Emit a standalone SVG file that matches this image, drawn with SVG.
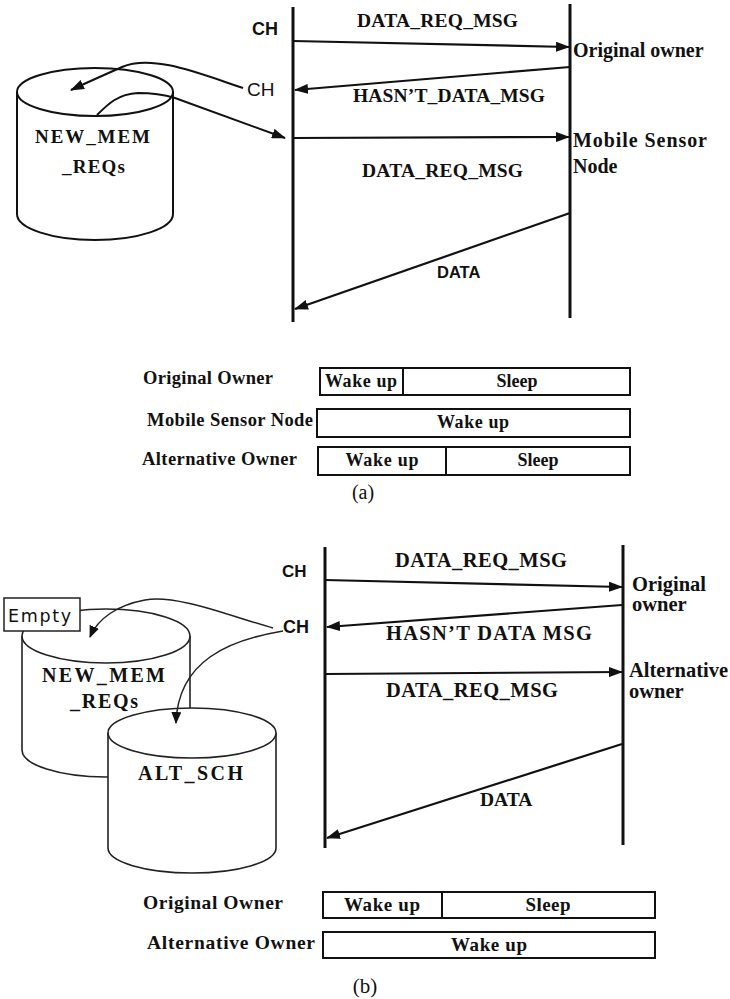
<svg xmlns="http://www.w3.org/2000/svg" width="730" height="999" viewBox="0 0 730 999">
  <style>
    .bg { fill: #ffffff; }
    .life { stroke: #111; stroke-width: 3; fill: none; }
    .msg { stroke: #111; stroke-width: 2.2; fill: none; }
    .curve { stroke: #111; stroke-width: 2; fill: none; }
    .curve-thin { stroke: #222; stroke-width: 1.5; fill: none; }
    .cyl { stroke: #111; stroke-width: 2; fill: #ffffff; }
    .cyl-thin { stroke: #222; stroke-width: 1.6; fill: #ffffff; }
    .box { stroke: #111; stroke-width: 2; fill: #ffffff; }
    .serif-b { font-family: "Liberation Serif", "Times New Roman", serif; font-weight: bold; fill: #111; }
    .serif { font-family: "Liberation Serif", "Times New Roman", serif; fill: #111; }
    .sans-b { font-family: "Liberation Sans", Arial, sans-serif; font-weight: bold; fill: #111; }
    .sans { font-family: "Liberation Sans", Arial, sans-serif; fill: #111; }
    .mid { text-anchor: middle; }
  </style>
  <defs>
    <marker id="ah" markerWidth="14" markerHeight="10" refX="13" refY="5" orient="auto" markerUnits="userSpaceOnUse">
      <path d="M0,0 L14,5 L0,10 Z" fill="#111"/>
    </marker>
    <marker id="ah-s" markerWidth="12" markerHeight="10" refX="11" refY="5" orient="auto" markerUnits="userSpaceOnUse">
      <path d="M0,0 L12,5 L0,10 Z" fill="#111"/>
    </marker>
  </defs>

  <rect class="bg" x="0" y="0" width="730" height="999"/>

  <!-- ===== Part (a) ===== -->
  <g id="a-ch-lifeline">
    <line class="life" x1="293" y1="7" x2="293" y2="322"/>
    <text class="sans-b" x="252" y="35" font-size="18">CH</text>
  </g>
  <g id="a-owner-lifeline">
    <line class="life" x1="570" y1="4" x2="570" y2="318"/>
    <text class="serif-b" x="573" y="57" font-size="20">Original owner</text>
    <text class="serif-b" x="573" y="147" font-size="20" textLength="134">Mobile Sensor</text>
    <text class="serif-b" x="573" y="173" font-size="20">Node</text>
  </g>
  <g id="a-ch-label">
    <text class="sans" x="247" y="96" font-size="19">CH</text>
  </g>
  <g id="a-new-mem-reqs">
    <path class="cyl" d="M17,92 A78,24 0 0,1 173,92 L173,214 A78,26 0 0,1 17,214 Z"/>
    <path class="cyl" d="M17,92 A78,24 0 0,0 173,92"/>
    <text class="serif-b" x="35" y="143" font-size="19" textLength="115">NEW_MEM</text>
    <text class="serif-b" x="62" y="173" font-size="19" textLength="63">_REQs</text>
  </g>

  <g id="a-connectors">
    <line class="msg" x1="293" y1="41" x2="569" y2="47" marker-end="url(#ah)"/>
    <line class="msg" x1="570" y1="67" x2="295" y2="90" marker-end="url(#ah)"/>
    <line class="msg" x1="293" y1="138" x2="569" y2="137" marker-end="url(#ah)"/>
    <line class="msg" x1="570" y1="213" x2="295" y2="309" marker-end="url(#ah)"/>
    <path class="curve" d="M243,88 C198,73 152,54 122,67 C104,75 88,82 71,90" marker-end="url(#ah)"/>
    <path class="curve" d="M97,115 C108,104 118,94 138,93 C152,93 165,95 175,98 L285,138" marker-end="url(#ah)"/>
  </g>

  <g id="a-message-labels">
    <text class="serif-b" x="357" y="27" font-size="19.5" textLength="161">DATA_REQ_MSG</text>
    <text class="serif-b" x="353" y="102" font-size="19.5" textLength="192">HASN’T_DATA_MSG</text>
    <text class="serif-b" x="362" y="177" font-size="19.5" textLength="161">DATA_REQ_MSG</text>
    <text class="sans-b" x="437" y="278" font-size="16.5">DATA</text>
  </g>

  <g id="a-timeline-original">
    <text class="serif-b" x="143" y="384" font-size="18.5" textLength="130">Original Owner</text>
    <rect class="box" x="320" y="368" width="310" height="27"/>
    <line class="box" x1="403" y1="368" x2="403" y2="395"/>
    <text class="serif-b mid" x="361" y="387" font-size="18" textLength="72">Wake up</text>
    <text class="serif-b mid" x="517" y="387" font-size="18">Sleep</text>
  </g>
  <g id="a-timeline-mobile">
    <text class="serif-b" x="147" y="426" font-size="18.5" textLength="166">Mobile Sensor Node</text>
    <rect class="box" x="317" y="409" width="313" height="28"/>
    <text class="serif-b mid" x="473" y="428" font-size="18" textLength="72">Wake up</text>
  </g>
  <g id="a-timeline-alternative">
    <text class="serif-b" x="142" y="465" font-size="18.5" textLength="155">Alternative Owner</text>
    <rect class="box" x="318" y="447" width="312" height="28"/>
    <line class="box" x1="446" y1="447" x2="446" y2="475"/>
    <text class="serif-b mid" x="382" y="466" font-size="18" textLength="73">Wake up</text>
    <text class="serif-b mid" x="538" y="466" font-size="18">Sleep</text>
  </g>
  <text class="serif mid" x="363" y="499" font-size="20">(a)</text>

  <!-- ===== Part (b) ===== -->
  <g id="b-ch-lifeline">
    <line class="life" x1="325" y1="547" x2="325" y2="848"/>
    <text class="sans-b" x="282" y="577" font-size="17">CH</text>
  </g>
  <g id="b-owner-lifeline">
    <line class="life" x1="623" y1="545" x2="623" y2="845"/>
    <text class="serif-b" x="632" y="591" font-size="20.5">Original</text>
    <text class="serif-b" x="632" y="611" font-size="20.5">owner</text>
    <text class="serif-b" x="629" y="677" font-size="20.5">Alternative</text>
    <text class="serif-b" x="629" y="698" font-size="20.5">owner</text>
  </g>

  <g id="b-new-mem-reqs">
    <path class="cyl-thin" d="M22,636 A84,27 0 0,1 190,636 L190,750 A84,27 0 0,1 22,750 Z"/>
    <path class="cyl-thin" d="M22,636 A84,27 0 0,0 190,636"/>
    <text class="serif-b" x="42" y="682" font-size="20" textLength="123">NEW_MEM</text>
    <text class="serif-b" x="70" y="708" font-size="20" textLength="68">_REQs</text>
  </g>
  <g id="b-alt-sch">
    <path class="cyl-thin" d="M108,733 A84,25 0 0,1 276,733 L276,848 A84,25 0 0,1 108,848 Z"/>
    <path class="cyl-thin" d="M108,733 A84,25 0 0,0 276,733"/>
    <text class="serif-b" x="138" y="780" font-size="20" textLength="105">ALT_SCH</text>
  </g>
  <g id="b-empty">
    <rect x="4" y="598" width="76" height="33" fill="#ffffff" stroke="#222" stroke-width="1.5"/>
    <text x="8" y="622" font-family="'DejaVu Sans', sans-serif" font-size="17.5" fill="#111" textLength="63">Empty</text>
  </g>
  <g id="b-ch-label">
    <text class="sans-b" x="283" y="633" font-size="18">CH</text>
  </g>

  <g id="b-connectors">
    <line class="msg" x1="325" y1="580" x2="622" y2="587" marker-end="url(#ah)"/>
    <line class="msg" x1="622" y1="605" x2="327" y2="627" marker-end="url(#ah)"/>
    <line class="msg" x1="325" y1="674" x2="622" y2="672" marker-end="url(#ah)"/>
    <line class="msg" x1="622" y1="744" x2="327" y2="838" marker-end="url(#ah)"/>
    <path class="curve-thin" d="M273,628 C230,616 176,594 145,600 C118,605 98,618 90,637" marker-end="url(#ah-s)"/>
    <path class="curve-thin" d="M283,631 C230,640 178,660 176,723" marker-end="url(#ah-s)"/>
  </g>

  <g id="b-message-labels">
    <text class="serif-b" x="395" y="567" font-size="20.5" textLength="172">DATA_REQ_MSG</text>
    <text class="serif-b" x="386" y="640" font-size="20.5" textLength="206">HASN’T DATA MSG</text>
    <text class="serif-b" x="386" y="697" font-size="20.5" textLength="172">DATA_REQ_MSG</text>
    <text class="serif-b" x="480" y="806" font-size="19.5">DATA</text>
  </g>

  <g id="b-timeline-original">
    <text class="serif-b" x="143" y="909" font-size="19.5" textLength="140">Original Owner</text>
    <rect class="box" x="323" y="892" width="332" height="26"/>
    <line class="box" x1="442" y1="892" x2="442" y2="918"/>
    <text class="serif-b mid" x="382" y="911" font-size="19" textLength="76">Wake up</text>
    <text class="serif-b mid" x="548" y="911" font-size="19" textLength="45">Sleep</text>
  </g>
  <g id="b-timeline-alternative">
    <text class="serif-b" x="147" y="949" font-size="19.5" textLength="168">Alternative Owner</text>
    <rect class="box" x="323" y="932" width="332" height="26"/>
    <text class="serif-b mid" x="489" y="951" font-size="19" textLength="76">Wake up</text>
  </g>
  <text class="serif mid" x="365" y="993" font-size="21">(b)</text>
</svg>
